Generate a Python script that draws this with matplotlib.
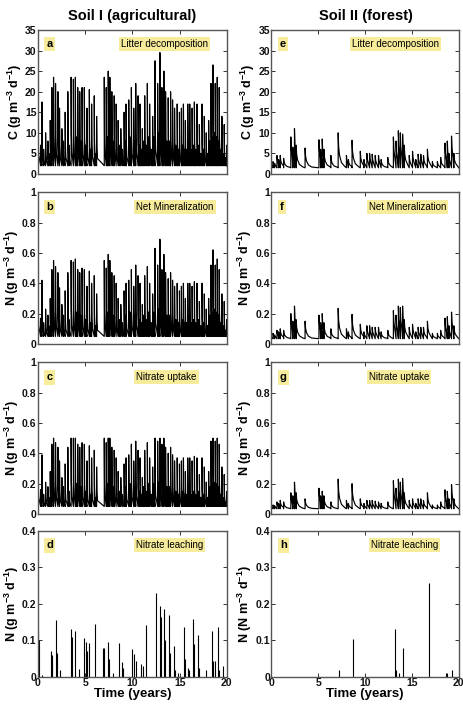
import matplotlib.pyplot as plt
from matplotlib.ticker import FuncFormatter

plt.rcParams['font.family'] = ['Liberation Sans', 'DejaVu Sans']
plt.rcParams['font.weight'] = 'bold'
plt.rcParams['mathtext.fontset'] = 'custom'
plt.rcParams['mathtext.rm'] = 'Liberation Sans:bold'
plt.rcParams['mathtext.bf'] = 'Liberation Sans:bold'
plt.rcParams['mathtext.default'] = 'rm'

# Soil I (agricultural): rain-pulse times (years) and peak rates
t_agri = [0.00, 0.28, 0.42, 0.60, 0.81, 1.05, 1.15, 1.30, 1.47, 1.65,
          1.86, 2.11, 2.28, 2.53, 2.70, 2.88, 3.16, 3.30, 3.51, 3.75,
          3.96, 4.05, 4.21, 4.42, 4.55, 4.67, 4.91, 5.05, 5.19, 5.44,
          5.55, 5.68, 5.96, 6.05, 6.21, 7.02, 7.23, 7.35, 7.44, 7.61,
          7.82, 7.95, 8.07, 8.28, 8.49, 8.62, 8.77, 8.95, 9.12, 9.22,
          9.33, 9.61, 9.75, 9.89, 10.14, 10.25, 10.35, 10.60, 10.70, 10.81,
          10.93, 11.05, 11.18, 11.30, 11.45, 11.58, 11.70, 11.82, 12.00, 12.14,
          12.27, 12.39, 12.67, 12.80, 12.91, 13.12, 13.22, 13.33, 13.51, 13.65,
          13.79, 13.92, 14.04, 14.25, 14.46, 14.60, 14.74, 14.86, 14.98, 15.19,
          15.30, 15.40, 15.50, 15.61, 15.75, 15.86, 15.96, 16.07, 16.20, 16.32,
          16.45, 16.56, 16.70, 16.84, 16.97, 17.09, 17.25, 17.37, 17.50, 17.61,
          17.82, 17.95, 18.07, 18.20, 18.32, 18.42, 18.53, 18.65, 18.77, 18.88,
          18.98, 19.10, 19.19, 19.33, 19.47, 19.60, 19.72, 19.85, 19.97]
litter_agri = [19.5, 7, 17.5, 6, 10, 8, 5, 13, 21, 23.5,
               22, 20, 16, 11, 8, 15, 20, 7, 23.5, 23,
               23.5, 9, 21, 20, 8, 21, 21, 7, 16, 20.5,
               6, 17, 19, 5, 14, 23.5, 21, 9, 25, 23.5,
               20, 8, 19, 17, 13, 7, 11, 6, 15, 8,
               17, 18, 9, 21, 16, 8, 22, 19, 7, 17,
               6, 11, 8, 19, 7, 22, 9, 17, 6, 14,
               9, 27.5, 22, 10, 29.5, 21, 10, 25, 20, 8,
               18.5, 8, 20, 18, 16, 7, 17, 6, 15, 16,
               7, 17, 6, 13, 6, 17, 7, 17, 6, 16,
               7, 17.5, 6, 17, 7, 12, 5, 17, 6, 14,
               10, 5, 13, 8, 22, 9, 26.5, 10, 22, 9,
               23.5, 8, 21, 6, 14, 5, 12, 4, 7]
minN_agri = [0.50, 0.17, 0.42, 0.14, 0.23, 0.19, 0.12, 0.30, 0.49, 0.55,
             0.51, 0.47, 0.37, 0.26, 0.19, 0.35, 0.47, 0.16, 0.55, 0.54,
             0.56, 0.21, 0.49, 0.47, 0.19, 0.50, 0.49, 0.16, 0.38, 0.48,
             0.14, 0.40, 0.45, 0.12, 0.33, 0.55, 0.50, 0.21, 0.59, 0.55,
             0.47, 0.19, 0.45, 0.40, 0.30, 0.16, 0.26, 0.14, 0.35, 0.19,
             0.40, 0.42, 0.21, 0.49, 0.38, 0.19, 0.52, 0.45, 0.16, 0.40,
             0.14, 0.26, 0.19, 0.45, 0.16, 0.51, 0.21, 0.40, 0.14, 0.33,
             0.21, 0.63, 0.52, 0.23, 0.69, 0.49, 0.23, 0.59, 0.47, 0.19,
             0.43, 0.19, 0.47, 0.42, 0.38, 0.16, 0.40, 0.14, 0.35, 0.38,
             0.16, 0.40, 0.14, 0.30, 0.14, 0.40, 0.16, 0.40, 0.14, 0.38,
             0.16, 0.41, 0.14, 0.40, 0.16, 0.28, 0.12, 0.40, 0.14, 0.33,
             0.23, 0.12, 0.30, 0.19, 0.52, 0.21, 0.62, 0.23, 0.52, 0.21,
             0.56, 0.19, 0.49, 0.14, 0.33, 0.12, 0.28, 0.09, 0.16]
uptake_agri = [0.45, 0.16, 0.39, 0.13, 0.21, 0.18, 0.11, 0.28, 0.46, 0.50,
               0.47, 0.44, 0.35, 0.24, 0.18, 0.33, 0.44, 0.15, 0.50, 0.50,
               0.50, 0.20, 0.46, 0.44, 0.18, 0.47, 0.46, 0.15, 0.35, 0.45,
               0.13, 0.37, 0.42, 0.11, 0.31, 0.50, 0.47, 0.20, 0.50, 0.50,
               0.44, 0.18, 0.42, 0.37, 0.28, 0.15, 0.24, 0.13, 0.33, 0.18,
               0.37, 0.39, 0.20, 0.46, 0.35, 0.18, 0.48, 0.42, 0.15, 0.37,
               0.13, 0.24, 0.18, 0.42, 0.15, 0.47, 0.20, 0.37, 0.13, 0.31,
               0.20, 0.50, 0.48, 0.21, 0.50, 0.46, 0.21, 0.50, 0.44, 0.18,
               0.40, 0.18, 0.44, 0.39, 0.35, 0.15, 0.37, 0.13, 0.33, 0.35,
               0.15, 0.37, 0.13, 0.28, 0.13, 0.37, 0.15, 0.37, 0.13, 0.35,
               0.15, 0.38, 0.13, 0.37, 0.15, 0.26, 0.11, 0.37, 0.13, 0.31,
               0.21, 0.11, 0.28, 0.18, 0.48, 0.20, 0.50, 0.21, 0.48, 0.20,
               0.50, 0.18, 0.46, 0.13, 0.31, 0.11, 0.26, 0.08, 0.15]
base_agri = [2.0, 0.05, 0.05]

# Soil II (forest)
t_forest = [0.00, 0.18, 0.35, 0.60, 0.78, 0.95, 1.31, 2.08, 2.29, 2.47,
            2.65, 3.60, 5.08, 5.26, 5.43, 5.61, 6.35, 7.13, 8.01, 8.22,
            8.61, 9.49, 9.88, 10.19, 10.48, 10.76, 11.08, 11.43, 11.71, 12.42,
            13.02, 13.30, 13.55, 13.76, 14.00, 14.18, 14.71, 15.06, 15.41, 15.66,
            15.94, 16.23, 16.65, 17.18, 17.71, 18.06, 18.52, 18.77, 18.94, 19.22,
            19.47]
litter_forest = [2.5, 3.0, 2.6, 4.5, 3.5, 4.5, 3.8, 9.0, 6.5, 11.0,
                 7.0, 6.3, 8.3, 6.0, 8.5, 6.0, 4.5, 10.0, 4.5, 3.5,
                 8.2, 5.5, 3.5, 5.0, 5.0, 4.8, 4.5, 4.5, 3.5, 4.0,
                 9.0, 8.0, 10.5, 10.0, 9.7, 7.0, 4.5, 5.5, 3.5, 4.8,
                 4.8, 4.5, 6.0, 3.0, 3.0, 4.0, 7.5, 8.0, 5.0, 9.2,
                 5.0]
minN_forest = [0.05, 0.07, 0.06, 0.09, 0.08, 0.10, 0.09, 0.20, 0.15, 0.25,
               0.16, 0.15, 0.19, 0.14, 0.20, 0.14, 0.10, 0.235, 0.10, 0.08,
               0.195, 0.13, 0.08, 0.12, 0.12, 0.11, 0.11, 0.11, 0.08, 0.09,
               0.22, 0.19, 0.25, 0.24, 0.25, 0.16, 0.11, 0.13, 0.08, 0.11,
               0.11, 0.11, 0.15, 0.07, 0.07, 0.09, 0.17, 0.18, 0.12, 0.21,
               0.12]
uptake_forest = [0.05, 0.06, 0.055, 0.08, 0.07, 0.09, 0.08, 0.14, 0.12, 0.21,
                 0.14, 0.10, 0.17, 0.12, 0.15, 0.12, 0.08, 0.23, 0.09, 0.07,
                 0.20, 0.10, 0.07, 0.09, 0.09, 0.09, 0.085, 0.08, 0.07, 0.08,
                 0.22, 0.17, 0.23, 0.21, 0.235, 0.14, 0.09, 0.10, 0.07, 0.10,
                 0.10, 0.09, 0.14, 0.06, 0.06, 0.08, 0.16, 0.15, 0.10, 0.195,
                 0.10]
base_forest = [1.5, 0.035, 0.035]

# nitrate leaching pulses
t_leach_agri = [0.00, 0.11, 0.46, 1.35, 1.46, 1.53, 1.88, 1.99, 2.34, 3.48,
                3.59, 3.87, 4.37, 4.90, 5.08, 5.22, 5.36, 6.07, 6.86, 7.03,
                7.39, 7.50, 7.99, 8.53, 8.85, 8.99, 9.95, 10.16, 10.41, 10.87,
                11.12, 11.47, 12.54, 12.97, 13.04, 13.36, 13.50, 13.85, 13.96, 14.39,
                14.56, 14.85, 15.42, 15.52, 15.88, 15.99, 16.45, 16.55, 16.91, 17.09,
                17.80, 18.40, 18.58, 18.76, 19.01, 19.18, 19.54]
leach_agri = [0.125, 0.10, 0.005, 0.072, 0.04, 0.06, 0.155, 0.065, 0.02, 0.13,
              0.11, 0.127, 0.022, 0.107, 0.095, 0.07, 0.093, 0.145, 0.08, 0.08,
              0.095, 0.05, 0.01, 0.092, 0.04, 0.025, 0.077, 0.062, 0.045, 0.035,
              0.03, 0.142, 0.23, 0.195, 0.165, 0.185, 0.10, 0.17, 0.065, 0.085,
              0.02, 0.012, 0.136, 0.05, 0.025, 0.02, 0.16, 0.09, 0.115, 0.025,
              0.02, 0.125, 0.045, 0.045, 0.138, 0.02, 0.03]
t_leach_forest = [7.17, 8.71, 13.19, 13.26, 13.62, 14.09, 16.77, 18.64, 18.75, 19.28]
leach_forest = [0.018, 0.103, 0.13, 0.02, 0.01, 0.08, 0.258, 0.01, 0.01, 0.02]

YEL = '#f6ec9c'


def trace(times, peaks, base, offs, fracs, t_end=20.0):
    # pulse: jump to peak, fast fall, then slow tail to the next pulse
    xs, ys = [], []
    for i, (t, p) in enumerate(zip(times, peaks)):
        t_next = times[i + 1] if i + 1 < len(times) else t_end
        xs += [t, t]
        ys += [base, p]
        for o, f in zip(offs, fracs):
            if t + o < t_next:
                xs.append(t + o)
                ys.append(base + f * (p - base))
    xs.append(t_end)
    ys.append(base)
    return xs, ys


def style(ax, ylim, yticks, ylabel, letter, name, name_x, bottom):
    ax.set_xlim(0, 20)
    ax.set_ylim(*ylim)
    ax.set_xticks([0, 5, 10, 15, 20])
    ax.set_yticks(yticks)
    ax.yaxis.set_major_formatter(FuncFormatter(lambda v, p: f'{v:g}'))
    ax.tick_params(direction='in', top=True, right=True, length=3, width=0.6,
                   labelsize=7.5, pad=1, colors='#111111')
    for s in ax.spines.values():
        s.set_color('#555555')
        s.set_linewidth(1.0)
    if bottom:
        ax.set_xlabel('Time (years)', fontsize=9.5, fontweight='bold', labelpad=0)
    else:
        ax.set_xticklabels([])
    for lbl in ax.get_xticklabels() + ax.get_yticklabels():
        lbl.set_fontweight('bold')
    ax.set_ylabel(ylabel, fontsize=9, fontweight='bold', labelpad=1)
    ax.text(0.045, 0.9, letter, transform=ax.transAxes, fontsize=8,
            va='center', ha='left', bbox=dict(fc=YEL, ec='none', pad=1.5))
    ax.text(name_x, 0.9, name, transform=ax.transAxes, fontsize=7,
            fontweight='normal', va='center', ha='left',
            bbox=dict(fc=YEL, ec='none', pad=1.5))


fig = plt.figure(figsize=(4.63, 7.13), dpi=100)
lefts = [0.082, 0.586]
widths = [0.408, 0.405]
rows = [(0.756, 0.202), (0.5175, 0.213), (0.279, 0.213), (0.0505, 0.205)]

cols = [
    (t_agri, [litter_agri, minN_agri, uptake_agri], base_agri,
     t_leach_agri, leach_agri, ['a', 'b', 'c', 'd'],
     [0.0, 0.03, 0.08], [1.0, 0.35, 0.15],
     'N (g m$^{-3}$ d$^{-1}$)', [0.44, 0.52, 0.52, 0.52]),
    (t_forest, [litter_forest, minN_forest, uptake_forest], base_forest,
     t_leach_forest, leach_forest, ['e', 'f', 'g', 'h'],
     [0.0, 0.05, 0.15, 0.35, 0.7], [1.0, 0.6, 0.35, 0.15, 0.04],
     'N (N m$^{-3}$ d$^{-1}$)', [0.43, 0.52, 0.52, 0.53]),
]
names = ['Litter decomposition', 'Net Mineralization', 'Nitrate uptake', 'Nitrate leaching']
ylabels = ['C (g m$^{-3}$ d$^{-1}$)', 'N (g m$^{-3}$ d$^{-1}$)', 'N (g m$^{-3}$ d$^{-1}$)']
ylims = [(0, 35), (0, 1), (0, 1)]
yticks = [[0, 5, 10, 15, 20, 25, 30, 35], [0, 0.2, 0.4, 0.6, 0.8, 1], [0, 0.2, 0.4, 0.6, 0.8, 1]]

for c, (times, series, bases, tl, leach, letters, offs, fracs, leach_lab, name_xs) in enumerate(cols):
    for r in range(4):
        ax = fig.add_axes([lefts[c], rows[r][0], widths[c], rows[r][1]])
        if r < 3:
            xs, ys = trace(times, series[r], bases[r], offs, fracs)
            ax.plot(xs, ys, color='black', lw=0.85)
            style(ax, ylims[r], yticks[r], ylabels[r], letters[r], names[r], name_xs[r], False)
        else:
            ax.vlines(tl, 0, leach, color='black', lw=0.8)
            style(ax, (0, 0.4), [0, 0.1, 0.2, 0.3, 0.4], leach_lab, letters[r], names[r], name_xs[r], True)

fig.text(0.285, 0.978, 'Soil I (agricultural)', ha='center', va='center', fontsize=10.5, fontweight='bold')
fig.text(0.79, 0.978, 'Soil II (forest)', ha='center', va='center', fontsize=10.5, fontweight='bold')

fig.savefig('out.png', dpi=100)
